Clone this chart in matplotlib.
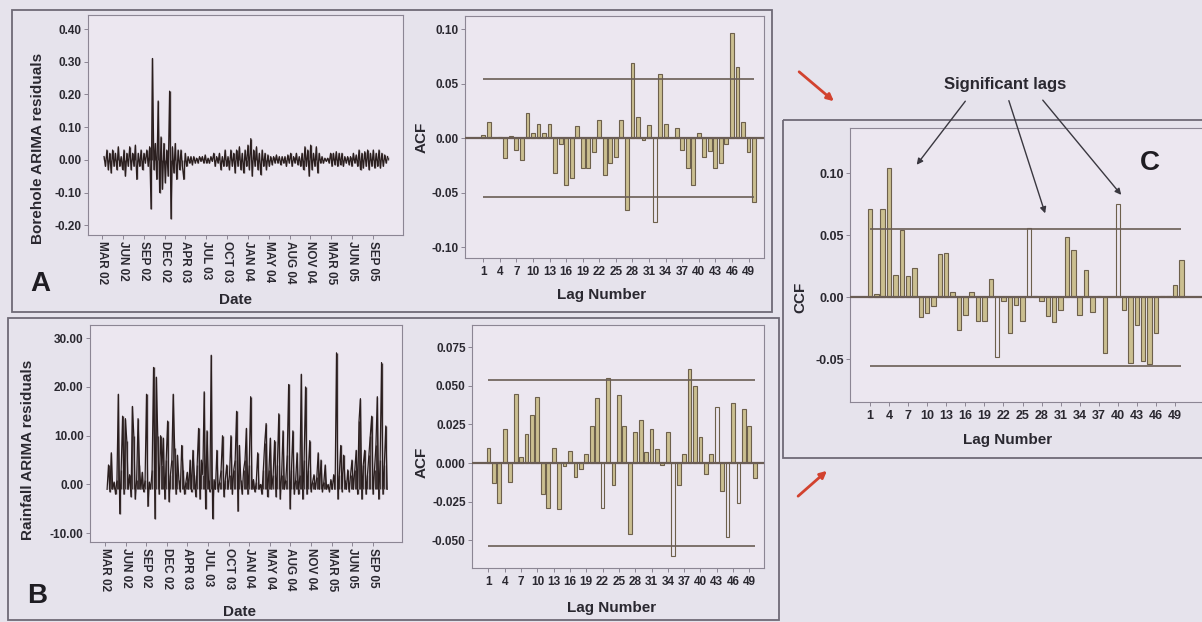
import numpy as np
import matplotlib
matplotlib.use('Agg')
import matplotlib.pyplot as plt
from matplotlib.patches import Rectangle, FancyArrowPatch

W, H = 1202, 622
plt.rcParams['font.family'] = ['Liberation Sans', 'DejaVu Sans']
plt.rcParams['font.weight'] = 'bold'

# ---------------- data ----------------
date_labels = ['MAR 02', 'JUN 02', 'SEP 02', 'DEC 02', 'APR 03', 'JUL 03', 'OCT 03',
               'JAN 04', 'MAY 04', 'AUG 04', 'NOV 04', 'MAR 05', 'JUN 05', 'SEP 05']
lags = list(range(1, 51))
lag_ticks = list(range(1, 50, 3))

borehole_resid = [
    0.01, -0.02, 0.03, -0.03, 0.02, -0.04, 0.03, -0.02, 0.02, -0.03, 0.04, -0.02, 0.01, -0.03, 0.03, -0.05,
    0.02, -0.02, 0.04, -0.03, 0.02, -0.02, 0.045, -0.06, 0.02, -0.02, 0.03, -0.03, 0.02, -0.01, 0.03,
    -0.02, 0.04, -0.15, 0.31, -0.03, 0.05, -0.06, 0.18, -0.10, 0.07, -0.09, 0.05, -0.07, 0.03, -0.05,
    0.21, -0.18, 0.04, -0.04, 0.05, -0.06, 0.03,
    -0.03, 0.03, -0.02, -0.06, 0.02, -0.02, 0.01,
    -0.01, 0.01, -0.015, 0.01, -0.01, 0.005, -0.01, 0.01, -0.005, 0.01, -0.01, 0.015, -0.01, 0.005,
    -0.01, 0.01, -0.005, 0.02, -0.02, 0.01, -0.01, 0.02, -0.03, 0.01, -0.02, 0.03, -0.02, 0.01, -0.03,
    0.03, -0.02, 0.02, -0.04, 0.03, -0.02, 0.04, -0.03, 0.02, -0.04, 0.03, -0.02, 0.045, -0.03, 0.065,
    -0.05, 0.03, -0.02, 0.04, -0.03, 0.02, -0.045, 0.03, -0.02, 0.02, -0.03, 0.015, -0.02, 0.01, -0.015,
    0.01, -0.01, 0.015, -0.01, 0.01, -0.015, 0.01,
    -0.01, 0.01, -0.02, 0.015, -0.01, 0.02, -0.02, 0.01, -0.01, 0.02, -0.015, 0.01, -0.02, 0.02, -0.03,
    0.04, -0.02, 0.03, -0.05, 0.045, -0.03, 0.02, -0.02, 0.04, -0.04, 0.02, -0.01, 0.01, -0.01, 0.005,
    -0.005, 0.005, -0.01, 0.02, -0.02,
    0.02, -0.015, 0.025, -0.02, 0.02, -0.015, 0.02, -0.02, 0.01, -0.01, 0.01, -0.015, 0.01, -0.02, 0.02,
    -0.01, 0.015, -0.02, 0.03, -0.03, 0.02, -0.025, 0.025, -0.02, 0.03, -0.03, 0.02, -0.02, 0.03, -0.025,
    0.02, -0.02, 0.03, -0.025, 0.02, -0.02, 0.015, -0.01, 0.01]

rainfall_resid = [
    -1, 4, -1.5, 6.5, -1, 0.5, -2, 1, 18.5, -6, 3, 14, -2, 13.5, 9, -1, 2, -2.5, 16, 10,
    -3, 1, 13.5, 4, -1, 2.5, -1.5, 1, 18.5, -4.5, 0.5, -1, 3, 24, -7, 22, 10, -2, 10, 4,
    9.5, -3, 5, 13, -3.5, 2, 5, 18.5, 7.5, -2, 6, 1, -1.5, 8, 3, -2, 0.5, 2.5, -1, 5,
    -1.5, 7, 2, -2.5, 4, 11.5, -3, 5, 2, 19, -5, 11, 1, -1.5, 26.5, -7, 1, -1, 7, -1.5,
    0.5, 3, 10, -2.5, 1, 4, -1, 2, 10, -2, 3, 5, 15, -5.5, 8, 1, -2, 3, 5, 11.5,
    -2, 4, 18, -1, 1, -1.5, 0.5, 6.5, -1, 0, -2, 3, 8.5, 12.5, -2.5, 3, 9.5, -1, 2, 9,
    -2.5, 4, 14.5, -3, 2, 11, -1, 1, 6, 20.5, -5, 3, 11, -2, 1, 6.5, -2, 2, 22.6, -3,
    5, 20, -2, 3, 9, -1.5, 0.5, 2, -1, 1.5, 6.5, -1, 5, -1.5, 0.5, 4, -1, 0, -1.5, 1,
    -1, 2, -1, 27, -3, 2, 8, -1.5, 6, 1, -1, 3, -1.5, 2, 5, -1, 3, 7, -2, 13,
    17.6, -3, 4, 7, -2, 2, 6, 10, 14, -2, 3, 8, 18, -3, 5, 25, -2, 4, 12, -1]

acf_borehole = [
    0.003, 0.015, 0.000, 0.001, -0.018, 0.002, -0.011, -0.020, 0.023, 0.005,
    0.013, 0.005, 0.013, -0.032, -0.005, -0.043, -0.037, 0.011, -0.027, -0.027,
    -0.013, 0.017, -0.034, -0.023, -0.017, 0.017, -0.066, 0.069, 0.019, -0.002,
    0.012, -0.077, 0.059, 0.013, 0.000, 0.009, -0.011, -0.027, -0.043, 0.005,
    -0.017, -0.012, -0.027, -0.023, -0.005, 0.096, 0.065, 0.015, -0.013, -0.059]

acf_rainfall = [
    0.010, -0.013, -0.026, 0.022, -0.012, 0.045, 0.004, 0.019, 0.031, 0.043,
    -0.020, -0.029, 0.010, -0.030, -0.002, 0.008, -0.009, -0.004, 0.006, 0.024,
    0.042, -0.029, 0.055, -0.014, 0.044, 0.024, -0.046, 0.020, 0.028, 0.007,
    0.022, 0.009, -0.001, 0.020, -0.060, -0.014, 0.006, 0.061, 0.050, 0.017,
    -0.007, 0.006, 0.036, -0.018, -0.048, 0.039, -0.026, 0.035, 0.024, -0.010]

ccf_values = [
    0.071, 0.003, 0.071, 0.104, 0.018, 0.054, 0.017, 0.024, -0.016, -0.013,
    -0.007, 0.035, 0.036, 0.004, -0.026, -0.014, 0.004, -0.019, -0.019, 0.015,
    -0.048, -0.003, -0.029, -0.006, -0.019, 0.056, 0.001, -0.003, -0.015, -0.020,
    -0.010, 0.049, 0.038, -0.014, 0.022, -0.012, 0.001, -0.045, 0.000, 0.075,
    -0.010, -0.053, -0.022, -0.051, -0.054, -0.029, 0.001, 0.001, 0.010, 0.030]

conf_borehole = 0.054
conf_rainfall = 0.054
conf_ccf = 0.055
hollow_A = [32]
hollow_B = [22, 35, 43, 45, 47]
hollow_C = [21, 26, 40]

# ---------------- style ----------------
page_bg = '#e6e3ec'
ax_bg = '#ece7f0'
txt = '#2a2830'
bar_face = '#cbbf90'
bar_edge = '#6d604c'
ref_line = '#6a5d55'
ts_color = '#2a1e1e'
spine_c = '#8c8694'

fig = plt.figure(figsize=(W / 100, H / 100), dpi=100)
fig.patch.set_facecolor(page_bg)


def ax_px(l, t, r, b, **kw):
    return fig.add_axes([l / W, 1 - b / H, (r - l) / W, (b - t) / H], **kw)


def style(ax, fs=8.5):
    ax.set_facecolor(ax_bg)
    for s in ax.spines.values():
        s.set_color(spine_c)
        s.set_linewidth(0.8)
    ax.tick_params(axis='both', colors=spine_c, labelcolor=txt, labelsize=fs,
                   length=3, width=0.7, pad=1.5)


def ts_panel(ax, vals, xlim, ylim, yticks, yfmt, base):
    x = np.linspace(0.1, 13.7, len(vals))
    ax.vlines(x, base, vals, color=ts_color, lw=1.0, alpha=0.85)
    ax.plot(x, vals, color=ts_color, lw=0.9)
    ax.set_xlim(*xlim)
    ax.set_ylim(*ylim)
    ax.set_yticks(yticks)
    ax.set_yticklabels([yfmt.format(v) for v in yticks])
    ax.set_xticks(range(len(date_labels)))
    ax.set_xticklabels(date_labels, rotation=-90, va='top', ha='center')
    style(ax, 8.5)


def acf_panel(ax, vals, hollow, conf, xlim, ylim, yticks, yfmt, fs=8.5):
    faces = [ax_bg if l in hollow else bar_face for l in lags]
    ax.bar(lags, vals, width=0.7, color=faces, edgecolor=bar_edge, linewidth=0.8, zorder=2)
    ax.axhline(0, color=ref_line, lw=1.6, zorder=3)
    ax.hlines([conf, -conf], 1, 50, color=ref_line, lw=1.2, zorder=3)
    ax.set_xlim(*xlim)
    ax.set_ylim(*ylim)
    ax.set_yticks(yticks)
    ax.set_yticklabels([yfmt.format(v) for v in yticks])
    ax.set_xticks(lag_ticks)
    ax.set_xticklabels([str(v) for v in lag_ticks])
    style(ax, fs)
    ax.tick_params(axis='x', pad=3)


# Panel A
axA = ax_px(88, 15, 403, 235)
ts_panel(axA, borehole_resid, (-0.67, 14.44), (-0.23, 0.443),
         [0.40, 0.30, 0.20, 0.10, 0.00, -0.10, -0.20], '{:.2f}', 0.0)
axA2 = ax_px(465, 16, 764, 258)
acf_panel(axA2, acf_borehole, hollow_A, conf_borehole, (-2.3, 51.8), (-0.110, 0.112),
          [0.10, 0.05, 0.00, -0.05, -0.10], '{:.2f}')

# Panel B
axB = ax_px(90, 325, 402, 542)
ts_panel(axB, rainfall_resid, (-0.73, 14.42), (-11.8, 32.7),
         [30, 20, 10, 0, -10], '{:.2f}', -1.0)
axB2 = ax_px(472, 325, 764, 568)
acf_panel(axB2, acf_rainfall, hollow_B, conf_rainfall, (-2.03, 51.7), (-0.068, 0.0894),
          [0.075, 0.050, 0.025, 0.000, -0.025, -0.050], '{:.3f}')

# Panel C
axC = ax_px(850, 128, 1202, 402)
acf_panel(axC, ccf_values, hollow_C, conf_ccf, (-2.15, 53.25), (-0.0844, 0.1365),
          [0.10, 0.05, 0.00, -0.05], '{:.2f}', fs=9)
axC.spines['right'].set_visible(False)

# ---------------- overlay: frames, labels, arrows ----------------
ov = fig.add_axes([0, 0, 1, 1], zorder=10)
ov.set_xlim(0, W)
ov.set_ylim(H, 0)
ov.axis('off')
ov.patch.set_alpha(0)

for (l, t, r, b) in [(12, 10, 772, 312), (8, 318, 779, 620), (783, 120, 1210, 458)]:
    ov.add_patch(Rectangle((l, t), r - l, b - t, fill=False, edgecolor='#6f6a76', lw=1.3))

lab = dict(color=txt, fontweight='bold', fontsize=11)
ov.text(38, 148, 'Borehole ARIMA residuals', rotation=90, ha='center', va='center', **lab)
ov.text(28, 450, 'Rainfall ARIMA residuals', rotation=90, ha='center', va='center', **lab)
ov.text(235, 300, 'Date', ha='center', va='center', **lab)
ov.text(240, 612, 'Date', ha='center', va='center', **lab)
ov.text(602, 295, 'Lag Number', ha='center', va='center', **lab)
ov.text(612, 608, 'Lag Number', ha='center', va='center', **lab)
ov.text(1008, 440, 'Lag Number', ha='center', va='center', **lab)
ov.text(422, 137, 'ACF', rotation=90, ha='center', va='center', **lab)
ov.text(422, 462, 'ACF', rotation=90, ha='center', va='center', **lab)
ov.text(800, 297, 'CCF', rotation=90, ha='center', va='center', **lab)

big = dict(color='#1e1c22', fontweight='bold', fontsize=20, ha='center', va='center')
ov.text(40, 284, 'A', **big)
ov.text(37, 596, 'B', **big)
ov.text(1150, 163, 'C', **big)

ov.text(1005, 84, 'Significant lags', ha='center', va='center', color='#2a2830',
        fontweight='bold', fontsize=12)
for (x0, y0, x1, y1) in [(967, 99, 915, 167), (1008, 98, 1046, 216), (1041, 98, 1123, 197)]:
    ov.add_patch(FancyArrowPatch((x0, y0), (x1, y1), arrowstyle='-|>', mutation_scale=9,
                                 color='#3a3840', lw=1.0))

for (x0, y0, x1, y1) in [(797, 70, 836, 103), (796, 498, 829, 469)]:
    ov.add_patch(FancyArrowPatch((x0, y0), (x1, y1), arrowstyle='-|>', mutation_scale=10,
                                 color='#d2422f', lw=2.0))

fig.savefig('out.png', dpi=100, facecolor=fig.get_facecolor())
